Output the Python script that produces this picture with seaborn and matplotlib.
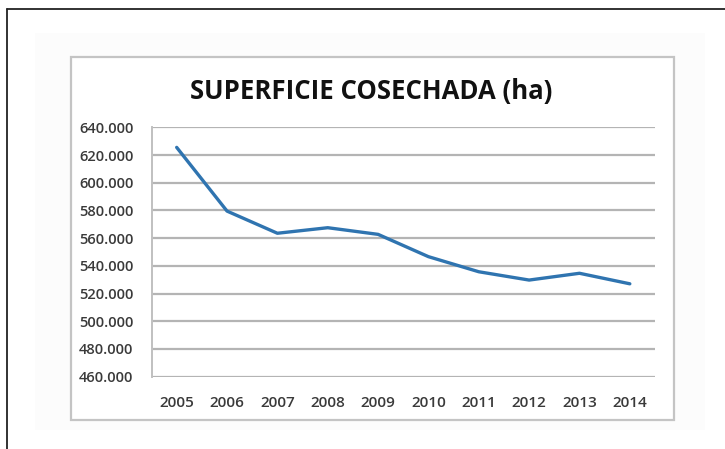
import matplotlib
matplotlib.use("Agg")
import matplotlib.pyplot as plt
import seaborn as sns
import pandas as pd
from matplotlib.patches import Rectangle
from matplotlib.lines import Line2D
from matplotlib.ticker import FuncFormatter

# datos (miles de ha)
years = ["2005", "2006", "2007", "2008", "2009", "2010", "2011", "2012", "2013", "2014"]
superficie = [625500, 579500, 563500, 567500, 562700, 546600, 535700, 529700, 534600, 527000]
y_ticks = [460000, 480000, 500000, 520000, 540000, 560000, 580000, 600000, 620000, 640000]

df = pd.DataFrame({"anio": years, "ha": superficie})

sns.set_style("white")
plt.rcParams["font.family"] = ["Open Sans", "DejaVu Sans"]

W, H = 725, 449
fig = plt.figure(figsize=(W / 100, H / 100), dpi=100)
fig.patch.set_facecolor("white")

# marco exterior (solo arriba e izquierda)
fig.add_artist(Line2D([7 / W, 7 / W], [0, 1 - 9 / H], transform=fig.transFigure,
                      color="#222222", lw=1.3))
fig.add_artist(Line2D([7 / W, 1], [1 - 9 / H, 1 - 9 / H], transform=fig.transFigure,
                      color="#222222", lw=1.3))

# sombra suave y recuadro del gráfico
fig.add_artist(Rectangle((35 / W, 1 - 430 / H), 670 / W, 397 / H, transform=fig.transFigure,
                         facecolor="#fcfcfc", edgecolor="none", zorder=0))
fig.add_artist(Rectangle((70.5 / W, 1 - 420 / H), (674 - 70.5) / W, (420 - 57) / H,
                         transform=fig.transFigure, facecolor="white",
                         edgecolor="#c4c4c4", lw=1.6, zorder=1))

ax = fig.add_axes([151.5 / W, 1 - 376.6 / H, (655 - 151.5) / W, (376.6 - 127.3) / H])
ax.set_facecolor("none")
ax.set_zorder(2)

sns.lineplot(data=df, x="anio", y="ha", ax=ax, color="#2f74b0", lw=2.4, sort=False)

ax.set_xlim(-0.5, len(years) - 0.5)
ax.set_ylim(y_ticks[0], y_ticks[-1])
ax.set_yticks(y_ticks)
ax.yaxis.set_major_formatter(FuncFormatter(lambda v, p: f"{int(v / 1000)}.000"))
ax.grid(axis="y", color="#b4b4b4", lw=1.6)
ax.set_axisbelow(True)
for s in ["top", "right", "bottom"]:
    ax.spines[s].set_visible(False)
ax.spines["left"].set_color("#c0c0c0")
ax.spines["left"].set_linewidth(1.4)
ax.tick_params(axis="y", length=0, labelsize=10.5, labelcolor="#3a3a3a", pad=13)
ax.tick_params(axis="x", length=0, labelsize=11, labelcolor="#3a3a3a", pad=14)
for lab in ax.get_xticklabels() + ax.get_yticklabels():
    lab.set_fontweight("semibold")
ax.set_xlabel("")
ax.set_ylabel("")

fig.text(371 / W, 1 - 92 / H, "SUPERFICIE COSECHADA (ha)", ha="center", va="center",
         fontsize=18.5, fontweight="bold", color="#111111")

fig.savefig("out.png", dpi=100)
